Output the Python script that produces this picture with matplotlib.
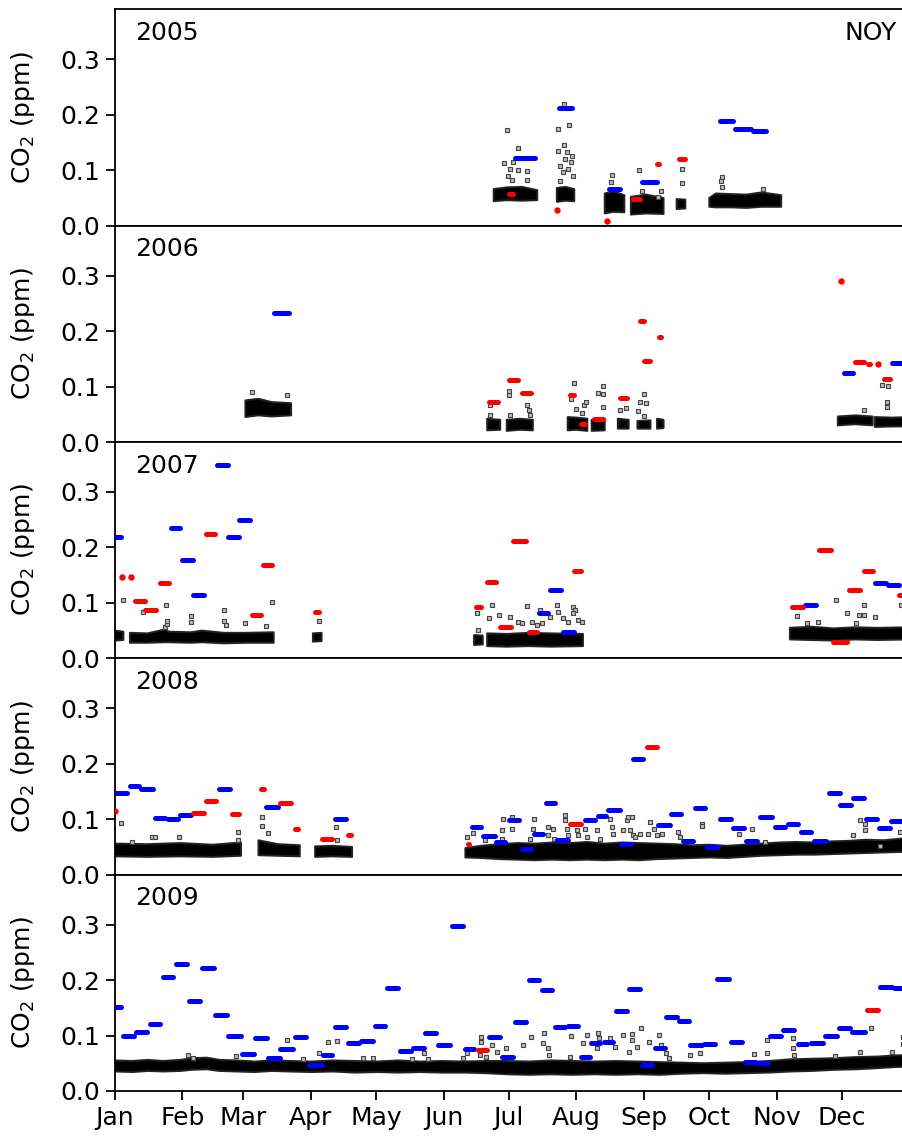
# 五年 CO2 時序面板圖 (NOY)
import numpy as np
import matplotlib
matplotlib.use("Agg")
import matplotlib.pyplot as plt

nan = np.nan

# === 0. 共用設定 ===
years = [2005, 2006, 2007, 2008, 2009]
month_labels = ["Jan", "Feb", "Mar", "Apr", "May", "Jun",
                "Jul", "Aug", "Sep", "Oct", "Nov", "Dec"]
month_days = [0, 31, 59, 90, 120, 151, 181, 212, 243, 273, 304, 334]
y_ticks = [0.0, 0.1, 0.2, 0.3]
site_name = "NOY"

# === 1. 資料（day of year, ppm）===
# 黑色連續量測：上下緣（nan 分段）
band_2005_day = [174, 180, 187, 194, nan, 203, 207, 211, nan, 225, 229, 234, nan,
                 237, 244, 252, nan, 258, 262, nan, 273, 276, 283, 290, 297, 306]
band_2005_lo = [.044, .046, .045, .046, nan, .043, .045, .044, nan, .022, .025, .024, nan,
                .020, .022, .021, nan, .030, .031, nan, .034, .033, .033, .032, .034, .034]
band_2005_hi = [.066, .069, .070, .064, nan, .068, .070, .066, nan, .058, .062, .055, nan,
                .052, .056, .050, nan, .048, .047, nan, .050, .058, .057, .056, .060, .055]

band_2006_day = [60, 66, 72, 81, nan, 171, 177, nan, 180, 186, 192, nan, 208, 212, 217, nan,
                 219, 225, nan, 231, 236, nan, 240, 246, nan, 249, 252, nan,
                 332, 340, 348, nan, 349, 357, 365]
band_2006_lo = [.045, .048, .046, .048, nan, .021, .022, nan, .020, .022, .021, nan, .021, .022, .020, nan,
                .020, .021, nan, .024, .024, nan, .024, .024, nan, .024, .025, nan,
                .030, .032, .030, nan, .027, .028, .028]
band_2006_hi = [.075, .078, .072, .070, nan, .042, .040, nan, .040, .042, .040, nan, .045, .044, .042, nan,
                .040, .042, nan, .042, .040, nan, .038, .039, nan, .042, .040, nan,
                .046, .048, .046, nan, .045, .044, .045]

band_2007_day = [0, 4, nan, 7, 15, 23, 25, 35, 40, 50, 60, 73, nan, 91, 95, nan, 165, 169, nan,
                 171, 180, 190, 200, 215, nan, 310, 320, 330, 340, 350, 365]
band_2007_lo = [.032, .033, nan, .028, .028, .029, .029, .028, .029, .027, .028, .028, nan, .030, .031, nan,
                .024, .025, nan, .022, .021, .022, .021, .022, nan, .034, .033, .032, .034, .033, .034]
band_2007_hi = [.050, .048, nan, .046, .045, .052, .048, .047, .050, .046, .046, .047, nan, .045, .046, nan,
                .042, .041, nan, .045, .044, .046, .045, .044, nan, .055, .057, .054, .056, .055, .056]

band_2008_day = [0, 15, 30, 45, 58, nan, 66, 75, 85, nan, 92, 100, 109, nan,
                 161, 168, 177, 185, 193, 201, 209, 217, 225, 233, 241, 249, 257, 265, 273,
                 281, 289, 297, 305, 313, 321, 329, 337, 345, 353, 361, 365]
band_2008_lo = [.033, .032, .033, .032, .034, nan, .035, .034, .033, nan, .032, .033, .032, nan,
                .031, .030, .028, .027, .026, .027, .026, .027, .026, .027, .026, .028, .029, .030, .031,
                .030, .032, .034, .035, .036, .036, .037, .038, .039, .040, .041, .040]
band_2008_hi = [.056, .055, .057, .054, .058, nan, .062, .055, .053, nan, .051, .052, .050, nan,
                .048, .052, .055, .057, .056, .058, .057, .059, .056, .058, .057, .056, .055, .053, .054,
                .052, .054, .056, .058, .059, .058, .060, .061, .063, .062, .065, .064]

band_2009_day = [0, 8, 15, 22, 30, 35, 42, 48, 56, 64, 72, 80, 90, 100, 110, 120, 130, 140, 150, 160,
                 170, 180, 190, 200, 210, 220, 230, 240, 250, 260, 270, 280, 290, 300, 310, 320, 330,
                 340, 350, 358, 365]
band_2009_lo = [.036, .035, .037, .036, .037, .039, .040, .037, .036, .035, .037, .036, .035, .036, .034,
                .035, .034, .035, .034, .034, .033, .031, .030, .031, .030, .031, .030, .031, .030, .032,
                .033, .032, .033, .034, .036, .037, .039, .040, .042, .044, .045]
band_2009_hi = [.056, .055, .057, .055, .057, .060, .061, .057, .056, .054, .056, .055, .054, .056, .055,
                .054, .056, .054, .055, .054, .055, .055, .054, .056, .055, .054, .055, .054, .053, .052,
                .051, .052, .053, .055, .058, .059, .060, .062, .063, .065, .066]

# 離群點
out_2005_day = [180.3, 185.3, 178.9, 183.0, 181.5, 185.3, 189.4, 189.4, 182.3, 180.7,
                206.4, 208.7, 203.7, 203.7, 206.3, 207.5, 209.8, 206.7, 209.4, 204.4,
                208.3, 206.0, 210.3, 204.4, 228.2, 227.9, 240.9, 250.7, 249.6, 260.3,
                260.3, 278.7, 278.3, 278.7, 297.8, 242.0]
out_2005_val = [.173, .140, .113, .114, .102, .101, .098, .082, .082, .090,
                .220, .182, .175, .135, .145, .132, .125, .120, .114, .108,
                .102, .096, .090, .081, .091, .078, .100, .063, .051, .102,
                .077, .087, .081, .069, .066, .063]

out_2006_day = [63, 79, 172.3, 172.3, 181.2, 181.2, 181.5, 189.4, 190.1, 190.7,
                210.9, 209.4, 211.8, 215.5, 216.4, 214.4, 222.0, 224.3, 224.3, 224.3,
                234.8, 232.0, 243.2, 243.8, 241.2, 240.4, 243.2, 352.4, 355.0, 354.4,
                354.4, 344.2]
out_2006_val = [.090, .085, .066, .049, .092, .084, .049, .066, .057, .048,
                .106, .078, .059, .066, .072, .053, .089, .101, .087, .063,
                .061, .057, .087, .071, .072, .056, .047, .103, .101, .072,
                .063, .057]

out_2007_day = [4, 13, 23.6, 35, 35, 50, 50, 51, 60, 69.5, 72, 94,
                166.2, 166.9, 171.9, 173.1, 176.4, 181.5, 185.3, 189.2, 191.5, 195.3,
                196.1, 199.9, 202.9, 203.7, 206.0, 208.3, 210.3, 211.3, 210.3, 212.9,
                214.4, 186.9, 193.8, 313.1, 318.0, 322.8, 331.0, 336.1, 340.4, 341.9,
                344.0, 344.0, 349.2, 360.9, 23.2, 23.8, 24.1]
out_2007_val = [.105, .083, .096, .076, .065, .087, .067, .060, .063, .058, .101, .067,
                .082, .051, .073, .097, .078, .075, .066, .094, .066, .087,
                .063, .075, .096, .084, .072, .066, .093, .088, .081, .069,
                .066, .063, .060, .076, .064, .066, .106, .081, .063, .078,
                .078, .097, .075, .097, .056, .062, .068]

out_2008_day = [3, 8, 17, 18.5, 29.6, 56.7, 56.7, 67.6, 67.6, 70.5, 101.7, 102, 161.6, 164.6, 170,
                178.4, 182.2, 182.2, 177.7, 177.7, 192.7, 192.2, 190.7, 199.1, 199.1,
                201.4, 201.9, 206.8, 206.8, 207.5, 208.3, 212.2, 212.9, 216.0, 216.7,
                221.3, 222.8, 227.4, 228.2, 228.9, 233.5, 235.1, 235.8, 237.3, 236.6,
                238.1, 238.8, 241.1, 245.7, 245.0, 247.6, 248.8, 251.1, 258.8, 259.5,
                269.5, 269.5, 286.8, 292.5, 298.6, 342.2, 344.5, 344.5, 339.2, 351.4, 360.6]
out_2008_val = [.093, .058, .068, .068, .068, .077, .062, .104, .088, .075, .086, .062, .068, .075, .062,
                .101, .104, .083, .080, .065, .100, .083, .065, .086, .071,
                .083, .065, .107, .098, .083, .071, .080, .071, .083, .068,
                .080, .065, .101, .086, .074, .080, .098, .104, .104, .080,
                .071, .068, .074, .095, .074, .083, .071, .074, .077, .068,
                .092, .088, .074, .082, .059, .098, .092, .080, .071, .051, .077]

out_2009_day = [33.8, 36.1, 55.7, 79.0, 86.6, 94.0, 98.1, 102.2, 114.1, 118.7,
                136.6, 142.0, 144.0, 160.1, 168.2, 168.2, 167.7, 170.5, 173.1, 175.4, 161.6,
                179.5, 191.1, 187.3, 197.2, 196.5, 199.1, 199.6, 209.5, 209.0, 216.7,
                215.2, 222.0, 222.3, 221.5, 227.2, 229.5, 233.6, 237.6, 237.3, 236.1,
                239.9, 241.6, 245.3, 249.9, 250.6, 253.0, 254.4, 264.2, 268.9, 293.3,
                299.5, 299.5, 311.2, 311.3, 311.7, 330.8, 342.0, 347.1, 356.9, 361.8, 361.8]
out_2009_val = [.065, .059, .063, .092, .057, .069, .088, .090, .059, .059,
                .057, .069, .057, .059, .098, .089, .065, .062, .082, .071, .068,
                .077, .097, .083, .104, .086, .077, .065, .099, .062, .101,
                .086, .105, .095, .077, .095, .080, .101, .103, .092, .071,
                .080, .113, .089, .101, .083, .068, .059, .065, .068, .067,
                .069, .092, .095, .077, .065, .063, .070, .113, .070, .098, .085]

# 藍 / 紅 區段平均：(起日, 迄日, 值)
blue_2005 = [(183, 194, .122), (203, 211, .212), (226, 233, .067), (241, 250, .079),
             (277, 285, .188), (284, 293, .174), (292, 300, .170)]
red_2005 = [(180, 184, .058), (203, 203, .029), (226, 226, .008), (237, 242, .048),
            (248, 251, .112), (258, 263, .120)]

blue_2006 = [(72, 81, .232), (334, 340, .125), (356, 366, .142)]
red_2006 = [(171, 177, .073), (180, 186, .111), (186, 192, .089), (208, 212, .085),
            (213, 217, .033), (219, 225, .042), (231, 236, .080), (240, 244, .219),
            (242, 247, .146), (249, 252, .189), (333.5, 333.5, .290), (339, 345, .144),
            (345, 348, .140), (350.5, 350.5, .140), (352, 357, .113)]

blue_2007 = [(-1, 4, .218), (25, 31, .235), (30, 37, .177), (35, 42, .114), (46, 53, .348),
             (51, 58, .218), (56, 63, .249), (194, 200, .081), (199, 206, .123),
             (205, 212, .047), (316, 323, .096), (348, 355, .135), (354, 361, .133)]
red_2007 = [(3.5, 3.5, .146), (7.5, 7.5, .146), (8.5, 15, .103), (13, 20, .087), (20, 26, .135),
            (41, 47, .224), (62, 68, .078), (67, 73, .168), (91, 95, .083), (165, 169, .092),
            (170, 176, .137), (176, 183, .056), (182, 190, .211), (189, 195, .047),
            (210, 215, .158), (310, 317, .092), (322.5, 330, .195), (329, 337, .029),
            (336, 343, .124), (343, 349, .158), (359, 366, .115)]

blue_2008 = [(-1, 6.6, .148), (6, 12, .160), (11, 18.5, .155), (17.5, 24, .103), (23.5, 30, .100),
             (29, 36, .107), (47, 54, .154), (68.5, 76, .122), (100, 107, .101), (163, 169, .086),
             (168, 175.5, .070), (174, 180, .058), (180, 186.5, .098), (186, 192, .047),
             (191.5, 197.5, .074), (197, 203, .129), (202, 209, .062), (215, 221.5, .098),
             (221, 226.5, .106), (225.5, 233, .117), (231.6, 238, .056), (237, 243.5, .208),
             (248.6, 256, .089), (254.6, 261, .109), (260, 266.5, .061), (265.6, 272, .120),
             (271, 278, .050), (277, 284, .101), (283, 290, .084), (289, 296, .060),
             (295.5, 303, .104), (302, 308.6, .086), (308, 314.6, .091), (314, 320.6, .077),
             (320, 327.5, .060), (326.8, 334, .148), (332, 339, .125), (338, 345, .138),
             (344, 351, .100), (350, 357, .084), (355.5, 366, .096)]
red_2008 = [(0, 0, .115), (35, 42, .112), (41, 47.5, .133), (53, 58, .110), (66, 69.5, .155),
            (75, 82, .129), (82, 85, .082), (92, 94, .046), (94, 101, .065), (106, 109.5, .072),
            (161, 163.6, .056), (208, 215, .091), (243.5, 250, .230)]

blue_2009 = [(-1, 4, .151), (3, 10, .099), (9, 15.8, .106), (15, 22, .120), (21, 27.8, .206),
             (27, 34, .229), (33, 40, .163), (39, 46.5, .221), (45, 52.5, .137), (51, 59, .099),
             (57.5, 65, .067), (63.5, 71, .096), (69.6, 77, .059), (75, 82.8, .075), (82, 89, .097),
             (88, 96, .047), (94.5, 101, .064), (100, 107, .115), (106, 113, .087), (112, 119.5, .090),
             (118.6, 125, .118), (124, 131, .185), (130, 137, .072), (135.8, 143, .078),
             (141.7, 148.6, .104), (147.5, 155, .082), (154, 161, .298), (160, 166, .075),
             (171, 178, .097), (177, 184, .061), (183, 190, .125), (189, 196, .200), (195, 202, .182),
             (201, 207.6, .116), (207, 213.6, .118), (213, 219, .061), (217.6, 224, .087),
             (223.8, 230, .088), (229, 236, .144), (235, 242, .184), (241, 247.6, .047),
             (247, 253.6, .078), (252, 259, .134), (258, 264.6, .126), (263, 270.6, .082),
             (269.6, 276.5, .085), (275.7, 283, .201), (282, 289, .088), (288.5, 295, .052),
             (294, 301, .051), (300, 307, .099), (306, 313, .110), (312.5, 319, .085),
             (318.5, 326, .087), (325, 332.6, .099), (331.6, 338.6, .114), (337.6, 345.5, .106),
             (350.5, 358, .187), (357, 366, .186)]
red_2009 = [(165.6, 172, .073), (344.5, 351.4, .146)]

# 整理成逐年清單
bands = {2005: (band_2005_day, band_2005_lo, band_2005_hi),
         2006: (band_2006_day, band_2006_lo, band_2006_hi),
         2007: (band_2007_day, band_2007_lo, band_2007_hi),
         2008: (band_2008_day, band_2008_lo, band_2008_hi),
         2009: (band_2009_day, band_2009_lo, band_2009_hi)}
outliers = {2005: (out_2005_day, out_2005_val), 2006: (out_2006_day, out_2006_val),
            2007: (out_2007_day, out_2007_val), 2008: (out_2008_day, out_2008_val),
            2009: (out_2009_day, out_2009_val)}
blues = {2005: blue_2005, 2006: blue_2006, 2007: blue_2007, 2008: blue_2008, 2009: blue_2009}
reds = {2005: red_2005, 2006: red_2006, 2007: red_2007, 2008: red_2008, 2009: red_2009}

plt.rcParams['font.family'] = ['DejaVu Sans']
plt.rcParams['font.size'] = 18
plt.rcParams['axes.linewidth'] = 1.3


def draw_segments(ax, segs, color):
    for start, end, val in segs:
        if end - start < 1.5:
            ax.plot([start], [val], 'o', color=color, ms=3.6, mec=color, zorder=4)
        else:
            ax.hlines(val, start + 1.0, end - 1.0, colors=color, lw=3.6,
                      capstyle='round', zorder=4)


# === 2. 畫圖 ===
fig = plt.figure(figsize=(9.03, 11.4), dpi=100)
left, right = 0.127, 1.0074
top, bottom = 0.9918, 0.0430
panel_h = (top - bottom) / len(years)

for i, year in enumerate(years):
    ax = fig.add_axes([left, top - (i + 1) * panel_h, right - left, panel_h])

    day, lo, hi = bands[year]
    ax.fill_between(np.array(day, float), np.array(lo, float), np.array(hi, float),
                    color='black', edgecolor='#222222', lw=1.4, zorder=2)

    od, ov = outliers[year]
    ax.scatter(od, ov, marker='s', s=5, facecolors='#bbbbbb', edgecolors='#444444',
               linewidths=0.8, zorder=3)

    draw_segments(ax, blues[year], '#0000ff')
    draw_segments(ax, reds[year], '#ff0000')

    ax.set_xlim(0, 365)
    ax.set_ylim(0, 0.39)
    ax.set_yticks(y_ticks)
    ax.set_yticklabels([f"{v:.1f}" for v in y_ticks])
    ax.set_xticks(month_days)
    ax.tick_params(length=6.7, width=1.3, pad=4)
    if i < len(years) - 1:
        ax.tick_params(axis='x', bottom=False, labelbottom=False)
    else:
        ax.set_xticklabels(month_labels)

    ax.set_ylabel("CO$_2$ (ppm)")
    ax.yaxis.set_label_coords(-0.098, 0.5)

    ax.text(0.026, 0.89, str(year), transform=ax.transAxes, ha='left', va='center')
    if i == 0:
        ax.text(0.984, 0.89, site_name, transform=ax.transAxes, ha='right', va='center')

plt.savefig("out.png", dpi=100)
plt.close()
